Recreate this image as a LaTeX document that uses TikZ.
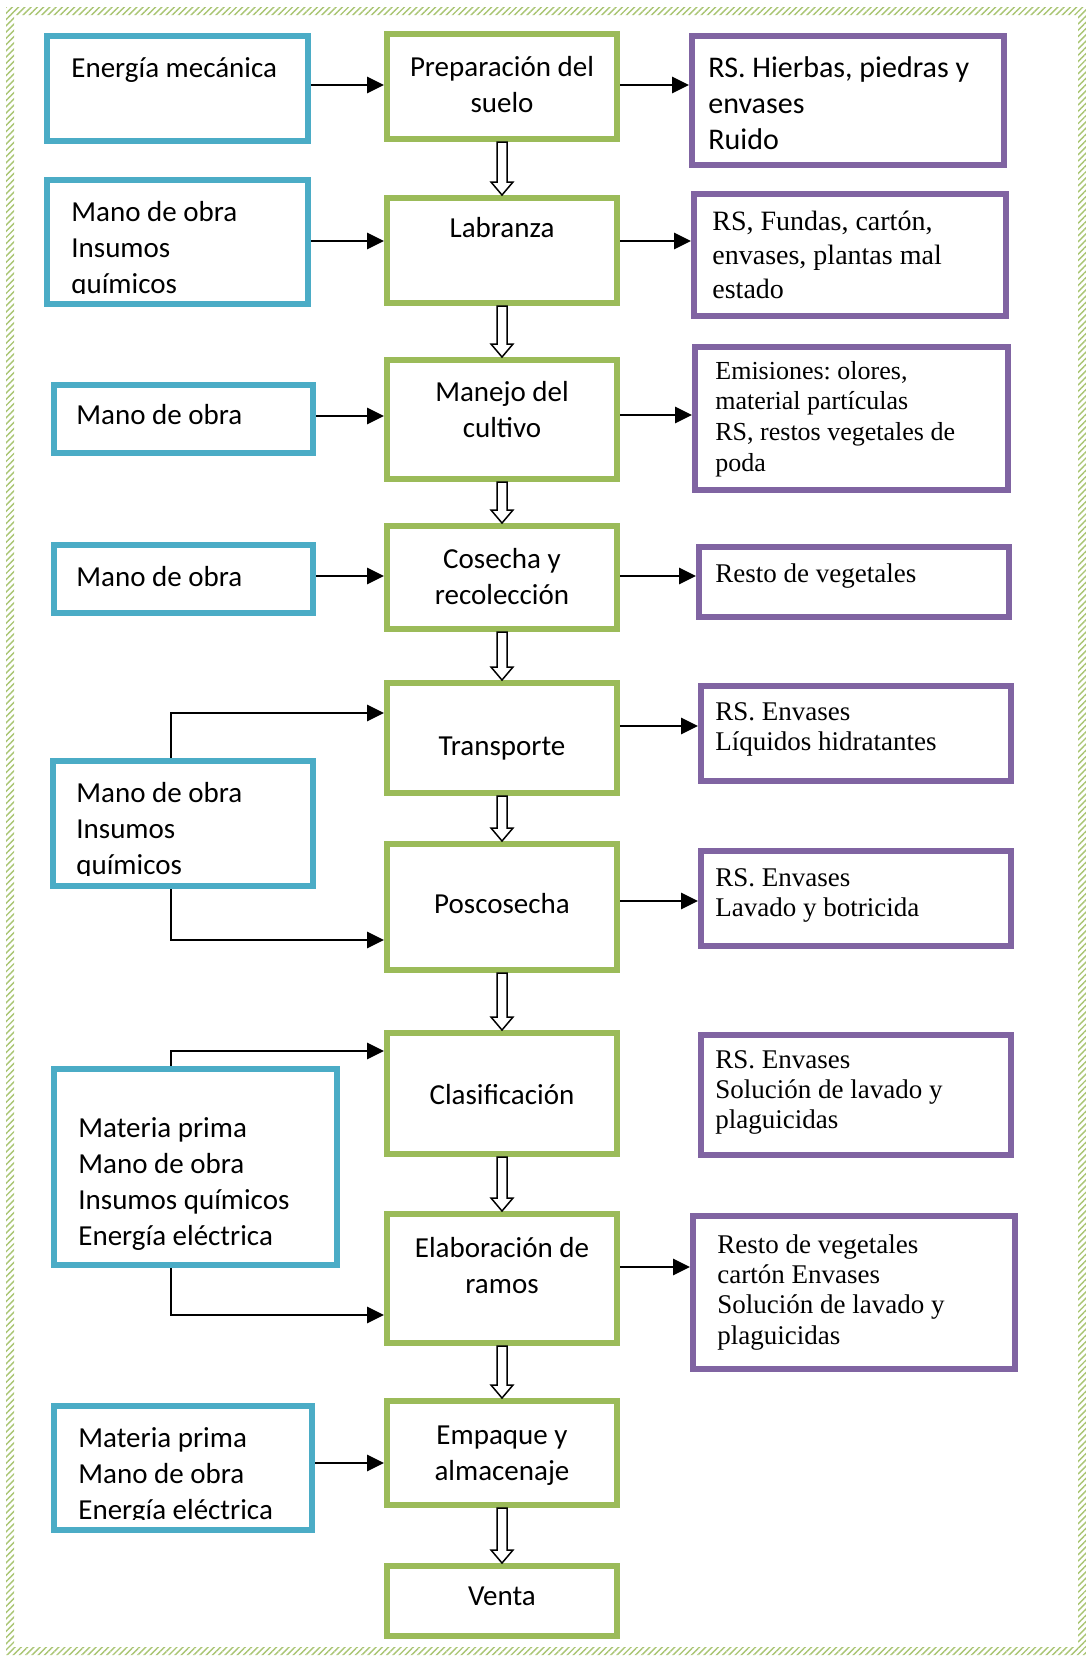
\documentclass[tikz,border=0pt]{standalone}
\usepackage{fontspec}
\newfontfamily\calibrifont{Carlito}
\newfontfamily\serifont{Liberation Serif}
\usetikzlibrary{positioning,calc,arrows.meta,patterns.meta}
\frenchspacing

\definecolor{inblue}{HTML}{4BACC6}
\definecolor{stepgreen}{HTML}{9BBB59}
\definecolor{outpurple}{HTML}{8064A2}
\definecolor{framegreen}{HTML}{A9C572}

% several lines of text, first baseline is the node baseline
\newcommand{\textlines}[2][l]{\begin{tabular}[t]{@{}#1@{}}#2\end{tabular}}
% hollow block arrow from the bottom of one step to the top of the next
\newcommand{\hollowdown}[2]{%
  \draw[hollow] ($(#1.south)+(-5,0)$) -- ($(#2.north)+(-5,-13)$)
    -- ($(#2.north)+(-11,-13)$) -- (#2.north) -- ($(#2.north)+(11,-13)$)
    -- ($(#2.north)+(5,-13)$) -- ($(#1.south)+(5,0)$) -- cycle;}

\tikzset{
  boxsize/.style 2 args={minimum width=#1*0.5pt, minimum height=#2*0.5pt},
  inbox/.style={draw=inblue, line width=3pt, inner sep=0pt},
  stepbox/.style={draw=stepgreen, line width=3pt, inner sep=0pt},
  outbox/.style={draw=outpurple, line width=3pt, inner sep=0pt},
  sanstext/.style={font=\calibrifont\fontsize{14.5}{18}\selectfont, inner sep=0pt, anchor=base west},
  centertext/.style={sanstext, anchor=base},
  seriftext/.style={font=\serifont\fontsize{13.5}{15.2}\selectfont, inner sep=0pt, anchor=base west},
  flow/.style={line width=1.45pt, -{Triangle[length=8.5pt,width=8pt]}},
  hollow/.style={draw=black, line width=0.75pt, fill=white},
  framehatch/.style={pattern={Lines[angle=45,distance=2.2pt,line width=0.7pt]}, pattern color=framegreen},
}

\begin{document}
\begin{tikzpicture}[x=0.5pt, y=-0.5pt]
    \useasboundingbox (0,0) rectangle (1087,1656);
    \fill[white] (0,0) rectangle (1087,1656);

    % Page frame
    \fill[framehatch, even odd rule] (6,7) rectangle (1086,1655) (14,15) rectangle (1078,1647);

    \pgfmathsetmacro{\midx}{502}
    \pgfmathsetmacro{\sidex}{171}

    % Inputs
    \node (in1) at (177.5,88.5) [inbox, boxsize={261}{105}] {};
    \node (in2) at (177.5,242) [inbox, boxsize={261}{124}] {};
    \node (in3) at (183.5,419) [inbox, boxsize={259}{68}] {};
    \node (in4) at (183.5,579) [inbox, boxsize={259}{68}] {};
    \node (in5) at (183,823.5) [inbox, boxsize={260}{125}] {};
    \node (in6) at (195.5,1167) [inbox, boxsize={283}{196}] {};
    \node (in7) at (183,1468) [inbox, boxsize={258}{124}] {};

    % Process steps
    \node (p1) at (\midx,86.5) [stepbox, boxsize={230}{105}] {};
    \node (p2) at (\midx,250.5) [stepbox, boxsize={230}{105}] {};
    \node (p3) at (\midx,419.5) [stepbox, boxsize={230}{119}] {};
    \node (p4) at (\midx,577.5) [stepbox, boxsize={230}{103}] {};
    \node (p5) at (\midx,738) [stepbox, boxsize={230}{110}] {};
    \node (p6) at (\midx,907) [stepbox, boxsize={230}{126}] {};
    \node (p7) at (\midx,1093.5) [stepbox, boxsize={230}{121}] {};
    \node (p8) at (\midx,1278.5) [stepbox, boxsize={230}{129}] {};
    \node (p9) at (\midx,1453) [stepbox, boxsize={230}{104}] {};
    \node (p10) at (\midx,1601) [stepbox, boxsize={230}{70}] {};

    % Outputs
    \node (q1) at (848,100.5) [outbox, boxsize={312}{129}] {};
    \node (q2) at (850,255) [outbox, boxsize={312}{122}] {};
    \node (q3) at (851.5,418.5) [outbox, boxsize={313}{143}] {};
    \node (q4) at (854,582) [outbox, boxsize={310}{70}] {};
    \node (q5) at (856,733.5) [outbox, boxsize={310}{95}] {};
    \node (q6) at (856,898.5) [outbox, boxsize={310}{95}] {};
    \node (q7) at (856,1095) [outbox, boxsize={310}{120}] {};
    \node (q8) at (854,1292.5) [outbox, boxsize={322}{153}] {};

    % Input texts
    \node (in1t) at (71,77) [sanstext] {Energía mecánica};
    \begin{scope}
        \clip (in2.north west) rectangle ($(in2.south east)+(0,-14)$);
        \node (in2t) at (71,221) [sanstext] {\textlines{Mano de obra\\Insumos\\químicos}};
    \end{scope}
    \node (in3t) at (76,424) [sanstext] {Mano de obra};
    \node (in4t) at (76,586) [sanstext] {Mano de obra};
    \begin{scope}
        \clip (in5.north west) rectangle ($(in5.south east)+(0,-14)$);
        \node (in5t) at (76,802) [sanstext] {\textlines{Mano de obra\\Insumos\\químicos}};
    \end{scope}
    \node (in6t) at (78,1137) [sanstext] {\textlines{Materia prima\\Mano de obra\\Insumos químicos\\Energía eléctrica}};
    \begin{scope}
        \clip (in7.north west) rectangle ($(in7.south east)+(0,-14)$);
        \node (in7t) at (78,1447) [sanstext] {\textlines{Materia prima\\Mano de obra\\Energía eléctrica}};
    \end{scope}

    % Step texts
    \node (p1t) at (\midx,76) [centertext] {\textlines[c]{Preparación del\\suelo}};
    \node (p2t) at (\midx,237) [centertext] {Labranza};
    \node (p3t) at (\midx,401) [centertext] {\textlines[c]{Manejo del\\cultivo}};
    \node (p4t) at (\midx,568) [centertext] {\textlines[c]{Cosecha y\\recolección}};
    \node (p5t) at (\midx,755) [centertext] {Transporte};
    \node (p6t) at (\midx,913) [centertext] {Poscosecha};
    \node (p7t) at (\midx,1104) [centertext] {Clasificación};
    \node (p8t) at (\midx,1257) [centertext] {\textlines[c]{Elaboración de\\ramos}};
    \node (p9t) at (\midx,1444) [centertext] {\textlines[c]{Empaque y\\almacenaje}};
    \node (p10t) at (\midx,1605) [centertext] {Venta};

    % Output texts
    \node (q1t) at (708,77) [sanstext, font=\calibrifont\fontsize{15}{18}\selectfont] {\textlines{RS. Hierbas, piedras y\\envases\\Ruido}};
    \node (q2t) at (712,230) [seriftext, font=\serifont\fontsize{14}{17}\selectfont] {\textlines{RS, Fundas, cartón,\\envases, plantas mal\\estado}};
    \node (q3t) at (715,379) [seriftext, font=\serifont\fontsize{13}{15.4}\selectfont] {\textlines{Emisiones: olores,\\material partículas\\RS, restos vegetales de\\poda}};
    \node (q4t) at (715,582) [seriftext] {Resto de vegetales};
    \node (q5t) at (715,720) [seriftext] {\textlines{RS. Envases\\Líquidos hidratantes}};
    \node (q6t) at (715,886) [seriftext] {\textlines{RS. Envases\\Lavado y botricida}};
    \node (q7t) at (715,1068) [seriftext] {\textlines{RS. Envases\\Solución de lavado y\\plaguicidas}};
    \node (q8t) at (717,1253) [seriftext] {\textlines{Resto de vegetales\\cartón Envases\\Solución de lavado y\\plaguicidas}};

    % Inputs into steps
    \draw[flow] (in1.east |- 0,85) -- (p1.west |- 0,85);
    \draw[flow] (in2.east |- 0,241) -- (p2.west |- 0,241);
    \draw[flow] (in3.east |- 0,416) -- (p3.west |- 0,416);
    \draw[flow] (in4.east |- 0,576) -- (p4.west |- 0,576);
    \draw[flow] (in5.north -| \sidex,0) |- (p5.west |- 0,713);
    \draw[flow] (in5.south -| \sidex,0) |- (p6.west |- 0,940);
    \draw[flow] (in6.north -| \sidex,0) |- (p7.west |- 0,1051);
    \draw[flow] (in6.south -| \sidex,0) |- (p8.west |- 0,1315);
    \draw[flow] (in7.east |- 0,1463) -- (p9.west |- 0,1463);

    % Steps into outputs
    \draw[flow] (p1.east |- 0,85) -- (q1.west |- 0,85);
    \draw[flow] (p2.east |- 0,241) -- (q2.west |- 0,241);
    \draw[flow] (p3.east |- 0,415) -- (q3.west |- 0,415);
    \draw[flow] (p4.east |- 0,576) -- (q4.west |- 0,576);
    \draw[flow] (p5.east |- 0,726) -- (q5.west |- 0,726);
    \draw[flow] (p6.east |- 0,901) -- (q6.west |- 0,901);
    \draw[flow] (p8.east |- 0,1267) -- (q8.west |- 0,1267);

    % Step order
    \foreach \a/\b in {p1/p2,p2/p3,p3/p4,p4/p5,p5/p6,p6/p7,p7/p8,p8/p9,p9/p10}
        {\hollowdown{\a}{\b}}
\end{tikzpicture}
\end{document}
